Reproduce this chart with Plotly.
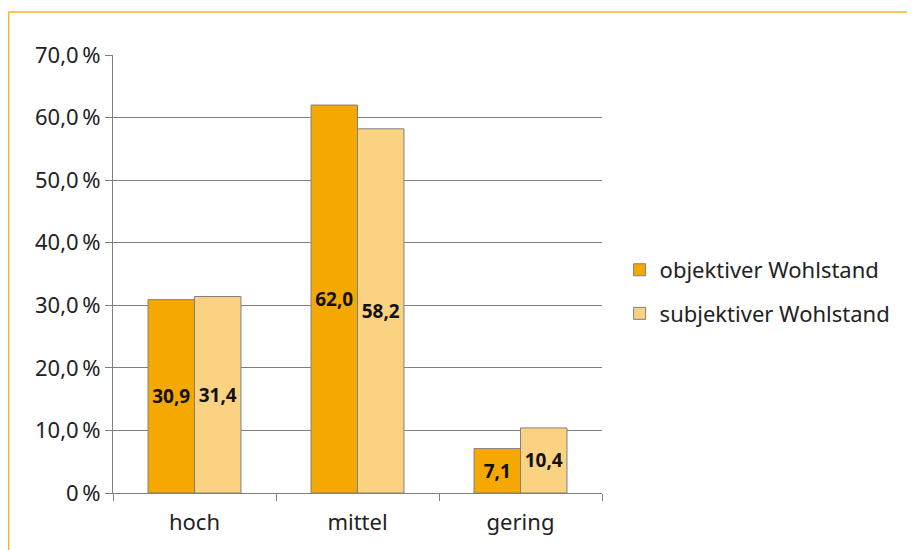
import plotly.graph_objects as go

# data
categories = ["hoch", "mittel", "gering"]
objektiv = [30.9, 62.0, 7.1]
subjektiv = [31.4, 58.2, 10.4]
series_names = ["objektiver Wohlstand", "subjektiver Wohlstand"]
tick_vals = [0, 10, 20, 30, 40, 50, 60, 70]
tick_text = ["0\u202f%", "10,0\u202f%", "20,0\u202f%", "30,0\u202f%", "40,0\u202f%",
             "50,0\u202f%", "60,0\u202f%", "70,0\u202f%"]

colors = ["#F5A800", "#FAD282"]
font_family = "Noto Sans, Open Sans, sans-serif"

fig = go.Figure()
for i, (name, vals) in enumerate(zip(series_names, [objektiv, subjektiv])):
    fig.add_trace(go.Bar(
        x=categories, y=vals, name=name,
        marker=dict(color=colors[i], line=dict(color="#808080", width=1)),
        texttemplate="%{y:.1f}", textposition="inside",
        insidetextanchor="middle", textangle=0,
        textfont=dict(family=font_family, size=19, color="#111111", weight="bold"),
        legendgroup=str(i),
    ))

# page body has an 8px margin, so margins are shifted by that
fig.update_layout(
    width=915, height=550,
    barmode="group", bargap=0.43, bargroupgap=0,
    separators=",.",
    plot_bgcolor="white", paper_bgcolor="white",
    font=dict(family=font_family, size=22, color="#222222"),
    margin=dict(l=105, r=321, t=47, b=65),
    legend=dict(x=1.036, y=0.459, yanchor="middle", xanchor="left",
                tracegroupgap=12, font=dict(size=22, color="#222222"),
                bgcolor="rgba(0,0,0,0)"),
    uniformtext=dict(mode="show", minsize=10),
)
fig.update_yaxes(
    range=[0, 70], tickvals=tick_vals, ticktext=tick_text,
    showgrid=True, gridcolor="#808080", gridwidth=1,
    showline=True, linecolor="#808080", linewidth=1,
    ticks="outside", ticklen=7, tickcolor="#808080",
    zeroline=False,
)
fig.update_xaxes(
    showline=True, linecolor="#808080", linewidth=1,
    ticks="outside", ticklen=7, tickcolor="#808080",
    tickson="boundaries", showgrid=False, ticklabelstandoff=10,
)

# orange frame around the chart
fig.add_shape(type="rect", xref="paper", yref="paper",
              x0=-0.2135, y0=-1, x1=3, y1=1.098,
              line=dict(color="#F9B52B", width=1.5), layer="below")

fig.write_html("out.html")
